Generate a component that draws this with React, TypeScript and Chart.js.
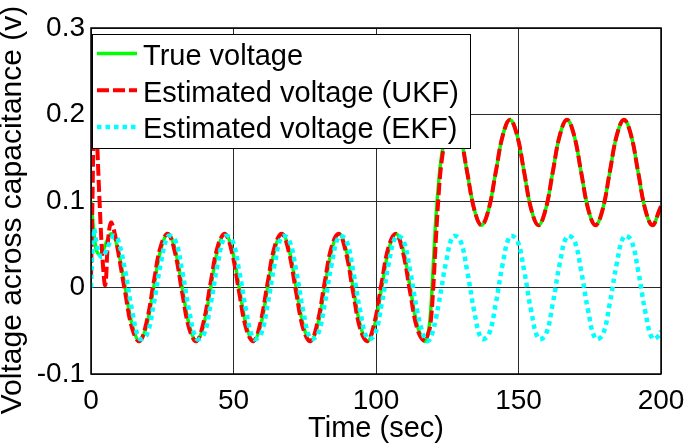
import React, { useEffect, useRef } from 'react';
import { Chart, registerables } from 'chart.js';

Chart.register(...registerables);

// ---- Data ----
const timeSec = [
  0, 0.5, 1, 1.5, 2, 3, 4, 5, 6, 7, 8, 9.5,
  12, 14.5, 17, 19.5, 22, 24.5, 27, 29.5,
  32, 34.5, 37, 39.5, 42, 44.5, 47, 49.5,
  52, 54.5, 57, 59.5, 62, 64.5, 67, 69.5,
  72, 74.5, 77, 79.5, 82, 84.5, 87, 89.5,
  92, 94.5, 97, 99.5, 102, 104.5, 107, 109.5,
  112, 114.5, 117, 118, 119, 120, 121, 122, 123, 124.5,
  127, 129.5, 132, 134.5, 137, 139.5, 142, 144.5,
  147, 149.5, 152, 154.5, 157, 159.5, 162, 164.5,
  167, 169.5, 172, 174.5, 177, 179.5, 182, 184.5,
  187, 189.5, 192, 194.5, 197, 199.5, 200,
];

const trueVoltage = [
  0.100, 0.082, 0.063, 0.050, 0.042, 0.038, 0.041, 0.049, 0.057, 0.062, 0.060, 0.044,
  0.000, -0.044, -0.062, -0.044, 0.000, 0.044, 0.062, 0.044,
  0.000, -0.044, -0.062, -0.044, 0.000, 0.044, 0.062, 0.044,
  0.000, -0.044, -0.062, -0.044, 0.000, 0.044, 0.062, 0.044,
  0.000, -0.044, -0.062, -0.044, 0.000, 0.044, 0.062, 0.044,
  0.000, -0.044, -0.062, -0.044, 0.000, 0.044, 0.062, 0.044,
  0.000, -0.044, -0.062, -0.057, -0.035, 0.020, 0.080, 0.122, 0.152, 0.176,
  0.194, 0.176, 0.133, 0.090, 0.072, 0.090, 0.133, 0.176,
  0.194, 0.176, 0.133, 0.090, 0.072, 0.090, 0.133, 0.176,
  0.194, 0.176, 0.133, 0.090, 0.072, 0.090, 0.133, 0.176,
  0.194, 0.176, 0.133, 0.090, 0.072, 0.090, 0.094,
];

const ukfVoltage = [
  0.010, 0.100, 0.190, 0.215, 0.180, 0.100, 0.035, 0.003, 0.055, 0.075, 0.067, 0.042,
  -0.006, -0.048, -0.062, -0.040, 0.006, 0.048, 0.062, 0.040,
  -0.006, -0.048, -0.062, -0.040, 0.006, 0.048, 0.062, 0.040,
  -0.006, -0.048, -0.062, -0.040, 0.006, 0.048, 0.062, 0.040,
  -0.006, -0.048, -0.062, -0.040, 0.006, 0.048, 0.062, 0.040,
  -0.006, -0.048, -0.062, -0.040, 0.006, 0.048, 0.062, 0.040,
  -0.006, -0.048, -0.062, -0.056, -0.045, -0.005, 0.055, 0.108, 0.145, 0.172,
  0.194, 0.176, 0.133, 0.090, 0.072, 0.090, 0.133, 0.176,
  0.194, 0.176, 0.133, 0.090, 0.072, 0.090, 0.133, 0.176,
  0.194, 0.176, 0.133, 0.090, 0.072, 0.090, 0.133, 0.176,
  0.194, 0.176, 0.133, 0.090, 0.072, 0.090, 0.094,
];

const ekfVoltage = [
  0.000, 0.045, 0.068, 0.062, 0.050, 0.038, 0.035, 0.040, 0.048, 0.055, 0.060, 0.055,
  0.019, -0.028, -0.059, -0.055, -0.019, 0.028, 0.059, 0.055,
  0.019, -0.028, -0.059, -0.055, -0.019, 0.028, 0.059, 0.055,
  0.019, -0.028, -0.059, -0.055, -0.019, 0.028, 0.059, 0.055,
  0.019, -0.028, -0.059, -0.055, -0.019, 0.028, 0.059, 0.055,
  0.019, -0.028, -0.059, -0.055, -0.019, 0.028, 0.059, 0.055,
  0.019, -0.028, -0.059, -0.062, -0.059, -0.050, -0.036, -0.019, 0.000, 0.028,
  0.059, 0.055, 0.019, -0.028, -0.059, -0.055, -0.019, 0.028,
  0.059, 0.055, 0.019, -0.028, -0.059, -0.055, -0.019, 0.028,
  0.059, 0.055, 0.019, -0.028, -0.059, -0.055, -0.019, 0.028,
  0.059, 0.055, 0.019, -0.028, -0.059, -0.055, -0.050,
];

const seriesNames = ['True voltage', 'Estimated voltage (UKF)', 'Estimated voltage (EKF)'];
const xTickValues = [0, 50, 100, 150, 200];
const xTickLabels = ['0', '50', '100', '150', '200'];
const yTickValues = [-0.1, 0, 0.1, 0.2, 0.3];
const yTickLabels = ['-0.1', '0', '0.1', '0.2', '0.3'];
const xTitle = 'Time (sec)';
const yTitle = 'Voltage across capacitance (v)';

// ---- Styles ----
const FONT = '"Liberation Sans", Arial, Helvetica, sans-serif';

const toPoints = (vals: number[]) => timeSec.map((t, i) => ({ x: t, y: vals[i] }));

const decorPlugin = {
  id: 'decor',
  afterDraw(chart: any) {
    const { ctx, chartArea: a } = chart;
    ctx.save();
    // axes box
    ctx.setLineDash([]);
    ctx.strokeStyle = '#000';
    ctx.lineWidth = 1.5;
    ctx.strokeRect(a.left, a.top, a.right - a.left, a.bottom - a.top);

    // legend box
    const bx = a.left + 1;
    const by = a.top + 6;
    const bw = 378;
    const bh = 114;
    ctx.fillStyle = '#fff';
    ctx.fillRect(bx, by, bw, bh);
    ctx.lineWidth = 1;
    ctx.strokeStyle = '#000';
    ctx.strokeRect(bx + 0.5, by + 0.5, bw, bh);
    chart.data.datasets.forEach((ds: any, i: number) => {
      const ly = by + 19.5 + i * 36.7;
      ctx.beginPath();
      ctx.setLineDash(ds.borderDash || []);
      ctx.lineWidth = ds.borderWidth;
      ctx.strokeStyle = ds.borderColor;
      ctx.lineCap = 'butt';
      ctx.moveTo(bx + 5, ly);
      ctx.lineTo(bx + 45, ly);
      ctx.stroke();
      ctx.setLineDash([]);
      ctx.fillStyle = '#000';
      ctx.font = `29px ${FONT}`;
      ctx.textAlign = 'left';
      ctx.textBaseline = 'alphabetic';
      ctx.fillText(ds.label, bx + 51, by + 31 + i * 36.7);
    });

    // axis titles
    ctx.fillStyle = '#000';
    ctx.font = `29px ${FONT}`;
    ctx.textAlign = 'center';
    ctx.textBaseline = 'alphabetic';
    ctx.fillText(xTitle, (a.left + a.right) / 2, 437);
    ctx.save();
    ctx.font = `30px ${FONT}`;
    ctx.translate(21, 210);
    ctx.rotate(-Math.PI / 2);
    ctx.fillText(yTitle, 0, 0);
    ctx.restore();
    ctx.restore();
  },
};

export default function App() {
  const ref = useRef<HTMLCanvasElement>(null);

  useEffect(() => {
    const chart = new Chart(ref.current as HTMLCanvasElement, {
      type: 'line',
      data: {
        datasets: [
          {
            label: seriesNames[0],
            data: toPoints(trueVoltage),
            borderColor: '#00ff00',
            borderWidth: 3.5,
            tension: 0.4,
            pointRadius: 0,
            fill: false,
            order: 3,
          },
          {
            label: seriesNames[1],
            data: toPoints(ukfVoltage),
            borderColor: '#ff0000',
            borderWidth: 4,
            borderDash: [12, 4],
            tension: 0.4,
            pointRadius: 0,
            fill: false,
            order: 2,
          },
          {
            label: seriesNames[2],
            data: toPoints(ekfVoltage),
            borderColor: '#00ffff',
            borderWidth: 4.5,
            borderDash: [4.5, 4],
            tension: 0.4,
            pointRadius: 0,
            fill: false,
            order: 1,
          },
        ],
      },
      options: {
        responsive: false,
        devicePixelRatio: 1,
        animation: false,
        layout: { padding: { left: 0, right: 24, top: 28, bottom: 0 } },
        plugins: {
          legend: { display: false },
          tooltip: { enabled: false },
        },
        scales: {
          x: {
            type: 'linear',
            min: 0,
            max: 200,
            afterBuildTicks: (s: any) => {
              s.ticks = xTickValues.map((v) => ({ value: v }));
            },
            afterFit: (s: any) => {
              s.height = 69;
              s.paddingLeft = 0;
              s.paddingRight = 0;
            },
            ticks: {
              font: { family: FONT, size: 28 },
              color: '#000',
              padding: 10,
              maxRotation: 0,
              autoSkip: false,
              callback: (_v: any, i: number) => xTickLabels[i],
            },
            grid: { color: '#2a2a2a', lineWidth: 1, drawTicks: false },
            border: { display: false },
          },
          y: {
            type: 'linear',
            min: -0.1,
            max: 0.3,
            afterBuildTicks: (s: any) => {
              s.ticks = yTickValues.map((v) => ({ value: v }));
            },
            afterFit: (s: any) => {
              s.width = 91;
              s.paddingTop = 0;
              s.paddingBottom = 0;
            },
            ticks: {
              font: { family: FONT, size: 28 },
              color: '#000',
              padding: 6,
              autoSkip: false,
              callback: (_v: any, i: number) => yTickLabels[i],
            },
            grid: { color: '#2a2a2a', lineWidth: 1, drawTicks: false },
            border: { display: false },
          },
        },
      },
      plugins: [decorPlugin],
    } as any);
    return () => chart.destroy();
  }, []);

  return (
    <div style={{ position: 'fixed', left: 0, top: 0, width: 685, height: 443, background: '#fff' }}>
      <canvas ref={ref} width={685} height={443} style={{ display: 'block', width: 685, height: 443 }} />
    </div>
  );
}
